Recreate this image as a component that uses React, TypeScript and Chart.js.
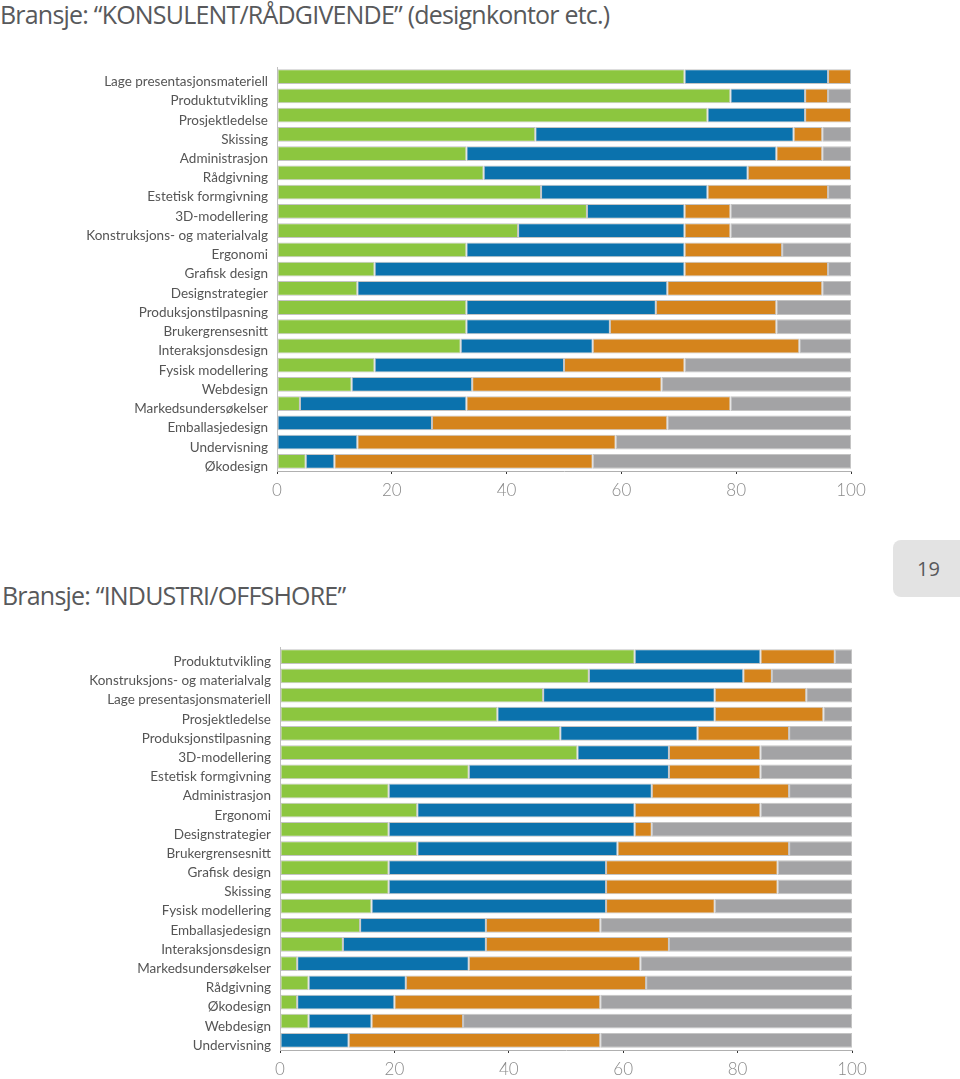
import React, { useEffect, useRef } from "react";
import { Chart, registerables } from "chart.js";

Chart.register(...registerables);

const consTitle = "Bransje: “KONSULENT/RÅDGIVENDE” (designkontor etc.)";
const consCategories = [
  "Lage presentasjonsmateriell", "Produktutvikling", "Prosjektledelse", "Skissing",
  "Administrasjon", "Rådgivning", "Estetisk formgivning", "3D-modellering",
  "Konstruksjons- og materialvalg", "Ergonomi", "Grafisk design", "Designstrategier",
  "Produksjonstilpasning", "Brukergrensesnitt", "Interaksjonsdesign", "Fysisk modellering",
  "Webdesign", "Markedsundersøkelser", "Emballasjedesign", "Undervisning", "Økodesign",
];
const consGreen = [71, 79, 75, 45, 33, 36, 46, 54, 42, 33, 17, 14, 33, 33, 32, 17, 13, 4, 0, 0, 5];
const consBlue = [25, 13, 17, 45, 54, 46, 29, 17, 29, 38, 54, 54, 33, 25, 23, 33, 21, 29, 27, 14, 5];
const consOrange = [4, 4, 8, 5, 8, 18, 21, 8, 8, 17, 25, 27, 21, 29, 36, 21, 33, 46, 41, 45, 45];
const consGray = [0, 4, 0, 5, 5, 0, 4, 21, 21, 12, 4, 5, 13, 13, 9, 29, 33, 21, 32, 41, 45];

const indTitle = "Bransje: “INDUSTRI/OFFSHORE”";
const indCategories = [
  "Produktutvikling", "Konstruksjons- og materialvalg", "Lage presentasjonsmateriell",
  "Prosjektledelse", "Produksjonstilpasning", "3D-modellering", "Estetisk formgivning",
  "Administrasjon", "Ergonomi", "Designstrategier", "Brukergrensesnitt", "Grafisk design",
  "Skissing", "Fysisk modellering", "Emballasjedesign", "Interaksjonsdesign",
  "Markedsundersøkelser", "Rådgivning", "Økodesign", "Webdesign", "Undervisning",
];
const indGreen = [62, 54, 46, 38, 49, 52, 33, 19, 24, 19, 24, 19, 19, 16, 14, 11, 3, 5, 3, 5, 0];
const indBlue = [22, 27, 30, 38, 24, 16, 35, 46, 38, 43, 35, 38, 38, 41, 22, 25, 30, 17, 17, 11, 12];
const indOrange = [13, 5, 16, 19, 16, 16, 16, 24, 22, 3, 30, 30, 30, 19, 20, 32, 30, 42, 36, 16, 44];
const indGray = [3, 14, 8, 5, 11, 16, 16, 11, 16, 35, 11, 13, 13, 24, 44, 32, 37, 36, 44, 68, 44];

const xTicks = [0, 20, 40, 60, 80, 100];
const pageNumber = "19";

const COLORS = ["#8cc63f", "#0b72ad", "#d5841c", "#a3a3a5"];

type BarProps = {
  categories: string[];
  series: number[][];
  top: number;
  height: number;
  yWidth: number;
  plotRight: number;
  width: number;
  xAxisHeight: number;
};

function StackedBars({ categories, series, top, height, yWidth, plotRight, width, xAxisHeight }: BarProps) {
  const ref = useRef<HTMLCanvasElement | null>(null);
  useEffect(() => {
    if (!ref.current) return;
    const chart = new Chart(ref.current, {
      type: "bar",
      data: {
        labels: categories,
        datasets: series.map((data, i) => ({
          data,
          backgroundColor: COLORS[i],
          borderColor: "rgba(190,190,190,0.9)",
          borderWidth: 1,
          borderSkipped: false,
          barPercentage: 0.77,
          categoryPercentage: 1,
        })),
      },
      options: {
        animation: false,
        responsive: false,
        indexAxis: "y",
        layout: { padding: { top: 10, right: width - plotRight, left: 0, bottom: 0 } },
        plugins: { legend: { display: false }, tooltip: { enabled: false } },
        scales: {
          x: {
            stacked: true,
            min: 0,
            max: 100,
            afterBuildTicks: (scale: any) => {
              scale.ticks = xTicks.map((v) => ({ value: v }));
            },
            afterFit: (scale: any) => {
              scale.height = xAxisHeight;
            },
            ticks: {
              color: "#8a8a8a",
              font: { family: "Lato", size: 17, weight: "300" },
              padding: 6,
              maxRotation: 0,
            },
            grid: { drawOnChartArea: false, drawTicks: true, tickLength: 3, color: "#333", lineWidth: 1 },
            border: { display: true, color: "#b0b0b0" },
          },
          y: {
            stacked: true,
            afterFit: (scale: any) => {
              scale.width = yWidth;
            },
            ticks: {
              color: "#555",
              font: { family: "Lato", size: 13.5 },
              padding: 9,
              labelOffset: 5,
              autoSkip: false,
            },
            grid: { display: false, drawTicks: false },
            border: { display: true, color: "#c0c0c0" },
          },
        },
      } as any,
    });
    return () => chart.destroy();
  }, []);
  return (
    <canvas
      ref={ref}
      width={width}
      height={height}
      style={{ position: "absolute", left: 0, top, width, height }}
    />
  );
}

export default function App() {
  useEffect(() => {
    document.body.style.overflow = "hidden";
  }, []);
  const titleStyle: React.CSSProperties = {
    position: "absolute",
    left: 0,
    fontFamily: "'Open Sans', sans-serif",
    fontSize: 25,
    color: "#58595b",
    whiteSpace: "nowrap",
    letterSpacing: -0.8,
  };
  return (
    <div style={{ position: "absolute", left: 0, top: 0, width: 960, height: 1079, background: "#fff", overflow: "hidden" }}>
      <div style={{ ...titleStyle, top: -3 }}>{consTitle}</div>
      <StackedBars
        categories={consCategories}
        series={[consGreen, consBlue, consOrange, consGray]}
        top={50}
        height={456}
        yWidth={277}
        plotRight={851}
        width={880}
        xAxisHeight={35}
      />
      <div style={{ ...titleStyle, top: 578, left: 2 }}>{indTitle}</div>
      <div
        style={{
          position: "absolute",
          left: 893,
          top: 540,
          width: 67,
          height: 57,
          background: "#e3e3e3",
          borderRadius: "8px 0 0 8px",
          display: "flex",
          alignItems: "center",
          justifyContent: "center",
          paddingLeft: 4,
          boxSizing: "border-box",
          fontFamily: "'Open Sans', sans-serif",
          fontSize: 20,
          color: "#58595b",
        }}
      >
        {pageNumber}
      </div>
      <StackedBars
        categories={indCategories}
        series={[indGreen, indBlue, indOrange, indGray]}
        top={630}
        height={449}
        yWidth={280}
        plotRight={852}
        width={880}
        xAxisHeight={29}
      />
    </div>
  );
}
